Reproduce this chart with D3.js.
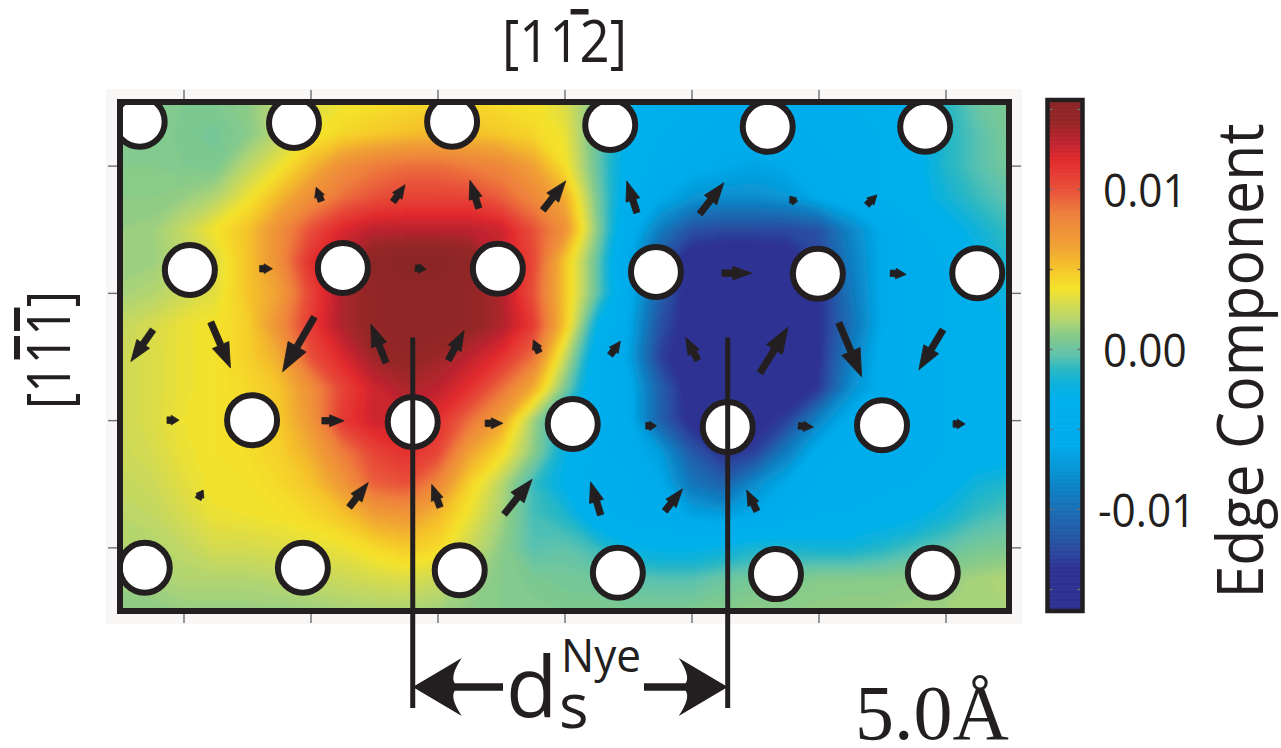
<!DOCTYPE html>
<html>
<head>
<meta charset="utf-8">
<script src="https://cdn.jsdelivr.net/npm/d3@7"></script>
<style>
  html, body { margin: 0; padding: 0; background: #fff; }
  svg { display: block; }
  text { font-family: "Open Sans", "Noto Sans", sans-serif; fill: #231f20; }
</style>
</head>
<body>
<svg id="chart" width="1281" height="748"></svg>
<script>
// Edge component of the Nye tensor, sampled every 0.5 Å (units of 1e-3).
// First row is the top edge (y = 8 Å), last row the bottom edge (y = 0 Å);
// columns run from x = 0 Å to x = 14 Å.
const gridStep = 0.5;
const edgeMilli = [
  [0.7,0.7,0.6,0.6,1.0,2.0,3.0,3.5,3.8,4.0,4.3,4.3,4.0,3.8,3.0,0.5,-2.5,-4,-4.5,-5,-5,-5,-5,-4.5,-4,-3,-1.5,0,0.5],
  [0.8,0.8,0.5,0.3,0.8,2.0,3.5,4.3,4.8,5.2,5.5,5.2,4.8,4.3,3.5,0.0,-3.0,-4.5,-5,-5.5,-5.5,-5.5,-5,-5,-4.5,-3.5,-1.5,-0.5,0.5],
  [0.8,0.8,0.6,0.5,2.0,3.5,5.5,7.5,8.5,9.0,9.0,8.5,8.0,6.5,4.0,0.0,-3.5,-5,-5.5,-6,-6.5,-6,-5.5,-5,-4.5,-3.5,-1.5,-0.5,0.3],
  [1.0,1.0,1.2,1.8,3.5,5.5,7.5,9.0,10.0,10.5,10.5,10.5,9.5,8.0,6.0,0.5,-4.0,-6,-7.5,-8,-8,-7.5,-6,-5,-4.5,-3.5,-2.0,-1.0,-0.3],
  [1.2,1.3,2.3,3.8,5.0,7.5,10.0,12.0,13.0,13.0,13.0,13.0,12.5,10.0,7.5,1.0,-5.0,-9,-12,-12.5,-12.5,-12.5,-12,-8.5,-6,-5,-3.5,-2.0,-1.0],
  [1.2,1.3,2.0,3.0,5.0,7.5,11.5,13.5,15.0,15.5,15.5,15.0,13.0,10.5,5.0,0.0,-6.0,-12,-15,-15.5,-15.5,-15,-13,-9,-6,-5,-4.5,-3,-1.5],
  [1.5,1.8,2.5,3.2,5.0,6.5,10.5,13.5,14.5,15.0,15.0,14.5,13.5,10.0,5.0,0.0,-5.5,-11,-15,-15.5,-15.5,-15,-14,-9.5,-6,-5,-4.5,-3.5,-2.0],
  [2.3,2.8,3.5,3.8,4.5,7.5,11.0,13.5,14.5,15.0,15.0,14.5,13.5,11.0,5.0,-2.5,-6.0,-12,-15,-15.5,-15.5,-15,-14,-10,-6,-5,-4.5,-4,-2.5],
  [2.5,3.0,3.5,3.8,4.5,6.0,10.0,12.0,14.0,14.5,14.0,13.0,11.5,9.0,2.5,-4.0,-6.5,-13,-15,-15.5,-15.5,-15,-14,-9,-5.5,-5,-4.5,-4,-2.5],
  [2.5,3.0,3.5,3.8,4.2,5.0,7.5,10.5,12.5,13.5,13.0,11.5,9.0,6.0,0.5,-4.5,-5.5,-11,-15,-15.5,-15.5,-15,-13.5,-8,-5.5,-5,-4.5,-4,-3],
  [2.5,3.0,3.6,3.8,4.0,4.8,7.0,11.0,12.5,12.5,11.5,9.0,6.5,1.5,-2.5,-4.5,-5.5,-11,-14.5,-15,-14.5,-13,-8.5,-5.5,-5,-5,-4.5,-4,-3.5],
  [2.5,2.8,3.5,3.8,4.0,4.5,6.0,8.5,10.5,11.5,10.5,6.5,4.2,1.0,-2.5,-5,-5.5,-7,-11.5,-14,-13,-9,-5.5,-5,-5,-5,-4.5,-4,-3.5],
  [2.3,2.5,3.2,3.8,3.8,4.2,5.0,7.0,9.5,10.0,8.0,4.5,2.0,-1.0,-3.0,-5,-5,-6,-9.5,-11,-8,-6,-5,-5,-5,-4.5,-3.5,-2.0,-1.5],
  [2.0,2.2,2.8,3.5,3.6,3.8,4.2,5.0,6.5,7.0,5.5,3.5,1.5,-0.8,-1.5,-4.0,-5,-5.5,-6.5,-7,-6,-5,-4.5,-4.5,-3.5,-3,-2.0,-1.0,-0.5],
  [1.8,1.8,2.2,2.8,2.8,3.0,3.2,3.5,4.2,4.8,4.2,2.5,1.0,-0.5,-0.3,-1.0,-2.5,-3,-3,-2.5,-1.8,-1.8,-2,-2,-1.5,-0.8,-0.3,0.3,0.5],
  [1.3,1.5,1.8,1.8,1.8,2.0,2.2,2.5,2.8,3.0,2.5,1.5,0.8,0.5,0.3,0.2,-0.3,-0.5,-0.5,0.0,0.3,0.5,0.8,0.8,0.8,1.0,1.2,1.5,1.8],
  [1.0,1.0,1.2,1.2,1.2,1.2,1.3,1.5,1.6,1.6,1.4,1.0,0.8,0.7,0.6,0.6,0.5,0.5,0.6,0.8,1.0,1.0,1.1,1.2,1.2,1.3,1.4,1.5,1.6]
];

// Atom columns (Å)
const atomX = [0.31, 2.74, 5.23, 7.72, 10.20, 12.68,
               1.10, 3.51, 5.95, 8.44, 10.99, 13.50,
               2.08, 4.61, 7.13, 9.57, 12.00,
               0.39, 2.88, 5.35, 7.84, 10.33, 12.80];
const atomY = [7.69, 7.67, 7.69, 7.64, 7.61, 7.61,
               5.36, 5.39, 5.38, 5.33, 5.30, 5.31,
               3.00, 2.97, 2.94, 2.89, 2.92,
               0.68, 0.68, 0.64, 0.60, 0.58, 0.60];

// Differential displacement arrows: tail position and vector (Å)
const arrowX = [3.17, 4.30, 5.65, 6.66, 8.14, 9.13, 10.63, 11.76,
                2.20, 4.65, 9.48, 12.13,
                0.52, 1.43, 3.06, 4.19, 5.17, 6.60, 7.72, 9.10, 10.08, 11.32, 12.96,
                0.74, 3.18, 5.75, 8.28, 10.68, 13.12,
                1.23, 3.61, 5.04, 6.05, 7.57, 8.58, 10.03];
const arrowY = [6.44, 6.43, 6.33, 6.30, 6.26, 6.24, 6.41, 6.38,
                5.38, 5.39, 5.31, 5.31,
                4.42, 4.54, 4.62, 3.90, 3.94, 4.06, 4.02, 3.94, 3.74, 4.53, 4.42,
                3.00, 2.99, 2.95, 2.91, 2.91, 2.94,
                1.76, 1.63, 1.63, 1.52, 1.51, 1.57, 1.57];
const arrowU = [-0.08, 0.19, -0.14, 0.36, -0.16, 0.38, -0.08, 0.16,
                0.20, 0.17, 0.47, 0.25,
                -0.35, 0.31, -0.50, -0.24, 0.25, -0.09, 0.16, -0.19, 0.44, 0.36, -0.38,
                0.19, 0.35, 0.28, 0.17, 0.24, 0.19,
                0.08, 0.30, -0.13, 0.44, -0.16, 0.28, -0.16];
const arrowV = [0.22, 0.27, 0.44, 0.46, 0.50, 0.49, 0.11, 0.16,
                0.00, -0.02, 0.00, -0.02,
                -0.50, -0.72, -0.86, 0.61, 0.47, 0.20, 0.22, 0.36, 0.72, -0.85, -0.63,
                0.00, 0.00, 0.00, 0.00, -0.02, 0.00,
                0.14, 0.39, 0.36, 0.55, 0.52, 0.35, 0.33];

// Partial core positions (Å); their separation is the Nye splitting distance
const coreX = [4.61, 9.57];
const splitLabel = "5.0Å";

const xTicks = [1, 3, 5, 7, 9, 11, 13];
const yTicks = [1, 3, 5, 7];
const barTicks = [0.01, 0.00, -0.01];
const barTickLabels = ["0.01", "0.00", "-0.01"];
const barMinorTicks = [-0.015, -0.01, -0.005, 0, 0.005, 0.01, 0.015];

// Colour map for the edge component
const stopValues = [-0.0165, -0.0138, -0.0125, -0.0112, -0.0100, -0.0085, -0.0072, -0.0060,
                    -0.0030, -0.0020, -0.0012, -0.0004, 0.0006, 0.0010, 0.0015, 0.0020,
                    0.0028, 0.0038, 0.0050, 0.0065, 0.0085, 0.0100, 0.0118, 0.0130,
                    0.0142, 0.0156];
const stopColors = ["#2e3192", "#2e3192", "#2b4ba0", "#225fab", "#1a6fb5", "#0b84c6", "#079bd9", "#00abec",
                    "#00b0ec", "#10b2d8", "#2db8c2", "#5ec2ae", "#7fc98e", "#8ccb88", "#a6d27a", "#b9d66a",
                    "#d5db50", "#f5e32a", "#f5c52a", "#f0a035", "#ee7f3c", "#e8503a", "#e22a2d", "#bd2430",
                    "#952626", "#8a2626"];

const ink = "#231f20";
const svg = d3.select("#chart");

const plot = { left: 120, right: 1009, top: 102, bottom: 611 };
const x = d3.scaleLinear().domain([0, 14]).range([plot.left, plot.right]);
const y = d3.scaleLinear().domain([0, 8]).range([plot.bottom, plot.top]);
const color = d3.scaleLinear().domain(stopValues).range(stopColors).clamp(true);

const defs = svg.append("defs");
defs.append("clipPath").attr("id", "plotClip")
  .append("rect")
  .attr("x", plot.left).attr("y", plot.top)
  .attr("width", plot.right - plot.left).attr("height", plot.bottom - plot.top);
defs.append("filter").attr("id", "soften")
  .attr("filterUnits", "userSpaceOnUse")
  .attr("x", 90).attr("y", 70).attr("width", 960).attr("height", 580)
  .append("feGaussianBlur").attr("stdDeviation", 2.2);

// faint band around the frame that carries the tick marks
svg.append("rect")
  .attr("x", 106).attr("y", 89).attr("width", 916).attr("height", 535)
  .attr("fill", "#f9f7f5");

// ---- filled contour field ----
const ny = edgeMilli.length, nx = edgeMilli[0].length;
const values = edgeMilli.flat().map(v => v / 1000);
const thresholds = d3.range(-0.0166, 0.0157, 0.0002);
const bands = d3.contours().size([nx, ny]).thresholds(thresholds)(values);
const toPlot = d3.geoTransform({
  point(gx, gy) {
    this.stream.point(x((gx - 0.5) * gridStep), y(8 - (gy - 0.5) * gridStep));
  }
});
const bandPath = d3.geoPath(toPlot);

const clipped = svg.append("g").attr("clip-path", "url(#plotClip)");
clipped.append("g").attr("filter", "url(#soften)")
  .selectAll("path").data(bands).join("path")
  .attr("d", bandPath)
  .attr("fill", d => color(d.value + 0.0001))
  .attr("stroke", d => color(d.value + 0.0001))
  .attr("stroke-width", 0.6);

// ---- ticks on all four sides ----
function styleAxis(g) {
  g.select(".domain").remove();
  g.selectAll(".tick line").attr("stroke", "#6d6e71").attr("stroke-width", 1.4);
}
svg.append("g").attr("transform", `translate(0,${plot.top - 3})`)
  .call(d3.axisTop(x).tickValues(xTicks).tickSize(9).tickFormat(""))
  .call(styleAxis);
svg.append("g").attr("transform", `translate(0,${plot.bottom + 3})`)
  .call(d3.axisBottom(x).tickValues(xTicks).tickSize(9).tickFormat(""))
  .call(styleAxis);
svg.append("g").attr("transform", `translate(${plot.left - 3},0)`)
  .call(d3.axisLeft(y).tickValues(yTicks).tickSize(9).tickFormat(""))
  .call(styleAxis);
svg.append("g").attr("transform", `translate(${plot.right + 3},0)`)
  .call(d3.axisRight(y).tickValues(yTicks).tickSize(9).tickFormat(""))
  .call(styleAxis);

// ---- atoms ----
clipped.append("g").selectAll("circle").data(atomX).join("circle")
  .attr("cx", d => x(d))
  .attr("cy", (d, i) => y(atomY[i]))
  .attr("r", 25)
  .attr("fill", "#fff")
  .attr("stroke", ink)
  .attr("stroke-width", 6);

// ---- displacement arrows ----
function arrowPath(x0, y0, x1, y1) {
  const dx = x1 - x0, dy = y1 - y0, L = Math.hypot(dx, dy);
  const hl = Math.min(0.65 * L, 10 + 0.3 * L);
  const hw = 7 + 0.22 * L;
  const sw = Math.min(6.5, hw * 0.7);
  const ux = dx / L, uy = dy / L, px = -uy, py = ux;
  const pts = [[0, sw / 2], [L - hl, sw / 2], [L - hl, hw / 2], [L, 0],
               [L - hl, -hw / 2], [L - hl, -sw / 2], [0, -sw / 2]];
  return "M" + pts.map(([a, b]) =>
    (x0 + ux * a + px * b).toFixed(2) + "," + (y0 + uy * a + py * b).toFixed(2)).join("L") + "Z";
}
clipped.append("g").selectAll("path").data(arrowX).join("path")
  .attr("d", (d, i) => arrowPath(x(d), y(arrowY[i]), x(d + arrowU[i]), y(arrowY[i] + arrowV[i])))
  .attr("fill", ink)
  .attr("stroke", ink).attr("stroke-width", 0.8).attr("stroke-linejoin", "round");

// ---- frame ----
svg.append("rect")
  .attr("x", plot.left).attr("y", plot.top)
  .attr("width", plot.right - plot.left).attr("height", plot.bottom - plot.top)
  .attr("fill", "none").attr("stroke", ink).attr("stroke-width", 6);

// ---- splitting distance marker ----
const markY = 687, lineTop = y(4.3), lineBottom = 708;
svg.append("g").selectAll("line").data(coreX).join("line")
  .attr("x1", d => x(d)).attr("x2", d => x(d))
  .attr("y1", lineTop).attr("y2", lineBottom)
  .attr("stroke", ink).attr("stroke-width", 5);

function bigArrow(tipX, tailX, yy) {
  const s = Math.sign(tailX - tipX);
  const hx = tipX + s * 49, nx2 = tipX + s * 42;
  return `M${tipX},${yy} L${hx},${yy - 29} Q${tipX + s * 37},${yy - 11} ${nx2},${yy - 3.8}` +
         ` L${tailX},${yy - 3.8} L${tailX},${yy + 3.8} L${nx2},${yy + 3.8}` +
         ` Q${tipX + s * 37},${yy + 11} ${hx},${yy + 29} Z`;
}
svg.append("path").attr("d", bigArrow(x(coreX[0]), 503, markY)).attr("fill", ink);
svg.append("path").attr("d", bigArrow(x(coreX[1]), 644, markY)).attr("fill", ink);

svg.append("text").attr("x", 506).attr("y", 717).attr("font-size", 84).text("d");
svg.append("text").attr("x", 559).attr("y", 728).attr("font-size", 62).text("s");
svg.append("text").attr("x", 561).attr("y", 672).attr("font-size", 45)
  .attr("textLength", 80).attr("lengthAdjust", "spacingAndGlyphs").text("Nye");

svg.append("text").attr("x", 855).attr("y", 739)
  .style("font-family", "'Liberation Serif', 'Times New Roman', serif")
  .attr("font-size", 78).text(splitLabel);

// ---- direction labels ----
const title = svg.append("text").attr("x", 502).attr("y", 62).attr("font-size", 59)
  .attr("textLength", 125).attr("lengthAdjust", "spacingAndGlyphs").text("[112]");
{
  const e = title.node().getExtentOfChar(3);
  svg.append("rect").attr("x", e.x - 9).attr("y", 9).attr("width", 18).attr("height", 5.5).attr("fill", ink);
}

const side = svg.append("g").attr("transform", "translate(70,350) rotate(-90)");
const sideText = side.append("text").attr("x", 0).attr("y", 0).attr("font-size", 60)
  .attr("text-anchor", "middle")
  .attr("textLength", 118).attr("lengthAdjust", "spacingAndGlyphs").text("[111]");
[2, 3].forEach(i => {
  const e = sideText.node().getExtentOfChar(i);
  side.append("rect").attr("x", e.x + 0.17 * e.width).attr("y", -56)
    .attr("width", 0.82 * e.width).attr("height", 6).attr("fill", ink);
});

// ---- colour bar ----
const cb = { left: 1047.5, right: 1082.5, top: 100, bottom: 611 };
const cbScale = d3.scaleLinear().domain([-0.01644, 0.01556]).range([612, 100]);
const cbStep = 0.0001;
svg.append("g").selectAll("rect").data(d3.range(-0.01644, 0.01556, cbStep)).join("rect")
  .attr("x", cb.left).attr("width", cb.right - cb.left)
  .attr("y", d => cbScale(d + cbStep) - 0.3)
  .attr("height", d => cbScale(d) - cbScale(d + cbStep) + 0.6)
  .attr("fill", d => color(d + cbStep / 2));

svg.append("g").attr("transform", `translate(${cb.left},0)`)
  .call(d3.axisRight(cbScale).tickValues(barMinorTicks).tickSize(5).tickFormat(""))
  .call(styleAxis);
svg.append("g").attr("transform", `translate(${cb.right},0)`)
  .call(d3.axisLeft(cbScale).tickValues(barMinorTicks).tickSize(5).tickFormat(""))
  .call(styleAxis);

svg.append("rect")
  .attr("x", cb.left).attr("y", cb.top)
  .attr("width", cb.right - cb.left).attr("height", cb.bottom - cb.top)
  .attr("fill", "none").attr("stroke", ink).attr("stroke-width", 4.5);

const barLabels = svg.append("g").selectAll("text").data(barTicks).join("text")
  .attr("x", (d, i) => barTickLabels[i].startsWith("-") ? 1098 : 1103)
  .attr("y", d => cbScale(d) + 18)
  .attr("font-size", 46)
  .text((d, i) => barTickLabels[i]);
barLabels.each(function () {
  const w = this.getComputedTextLength();
  d3.select(this).attr("textLength", w * 0.92).attr("lengthAdjust", "spacingAndGlyphs");
});

svg.append("text")
  .attr("transform", "translate(1263,361) rotate(-90)")
  .attr("text-anchor", "middle")
  .attr("font-size", 64)
  .attr("textLength", 475).attr("lengthAdjust", "spacingAndGlyphs")
  .text("Edge Component");
</script>
</body>
</html>
